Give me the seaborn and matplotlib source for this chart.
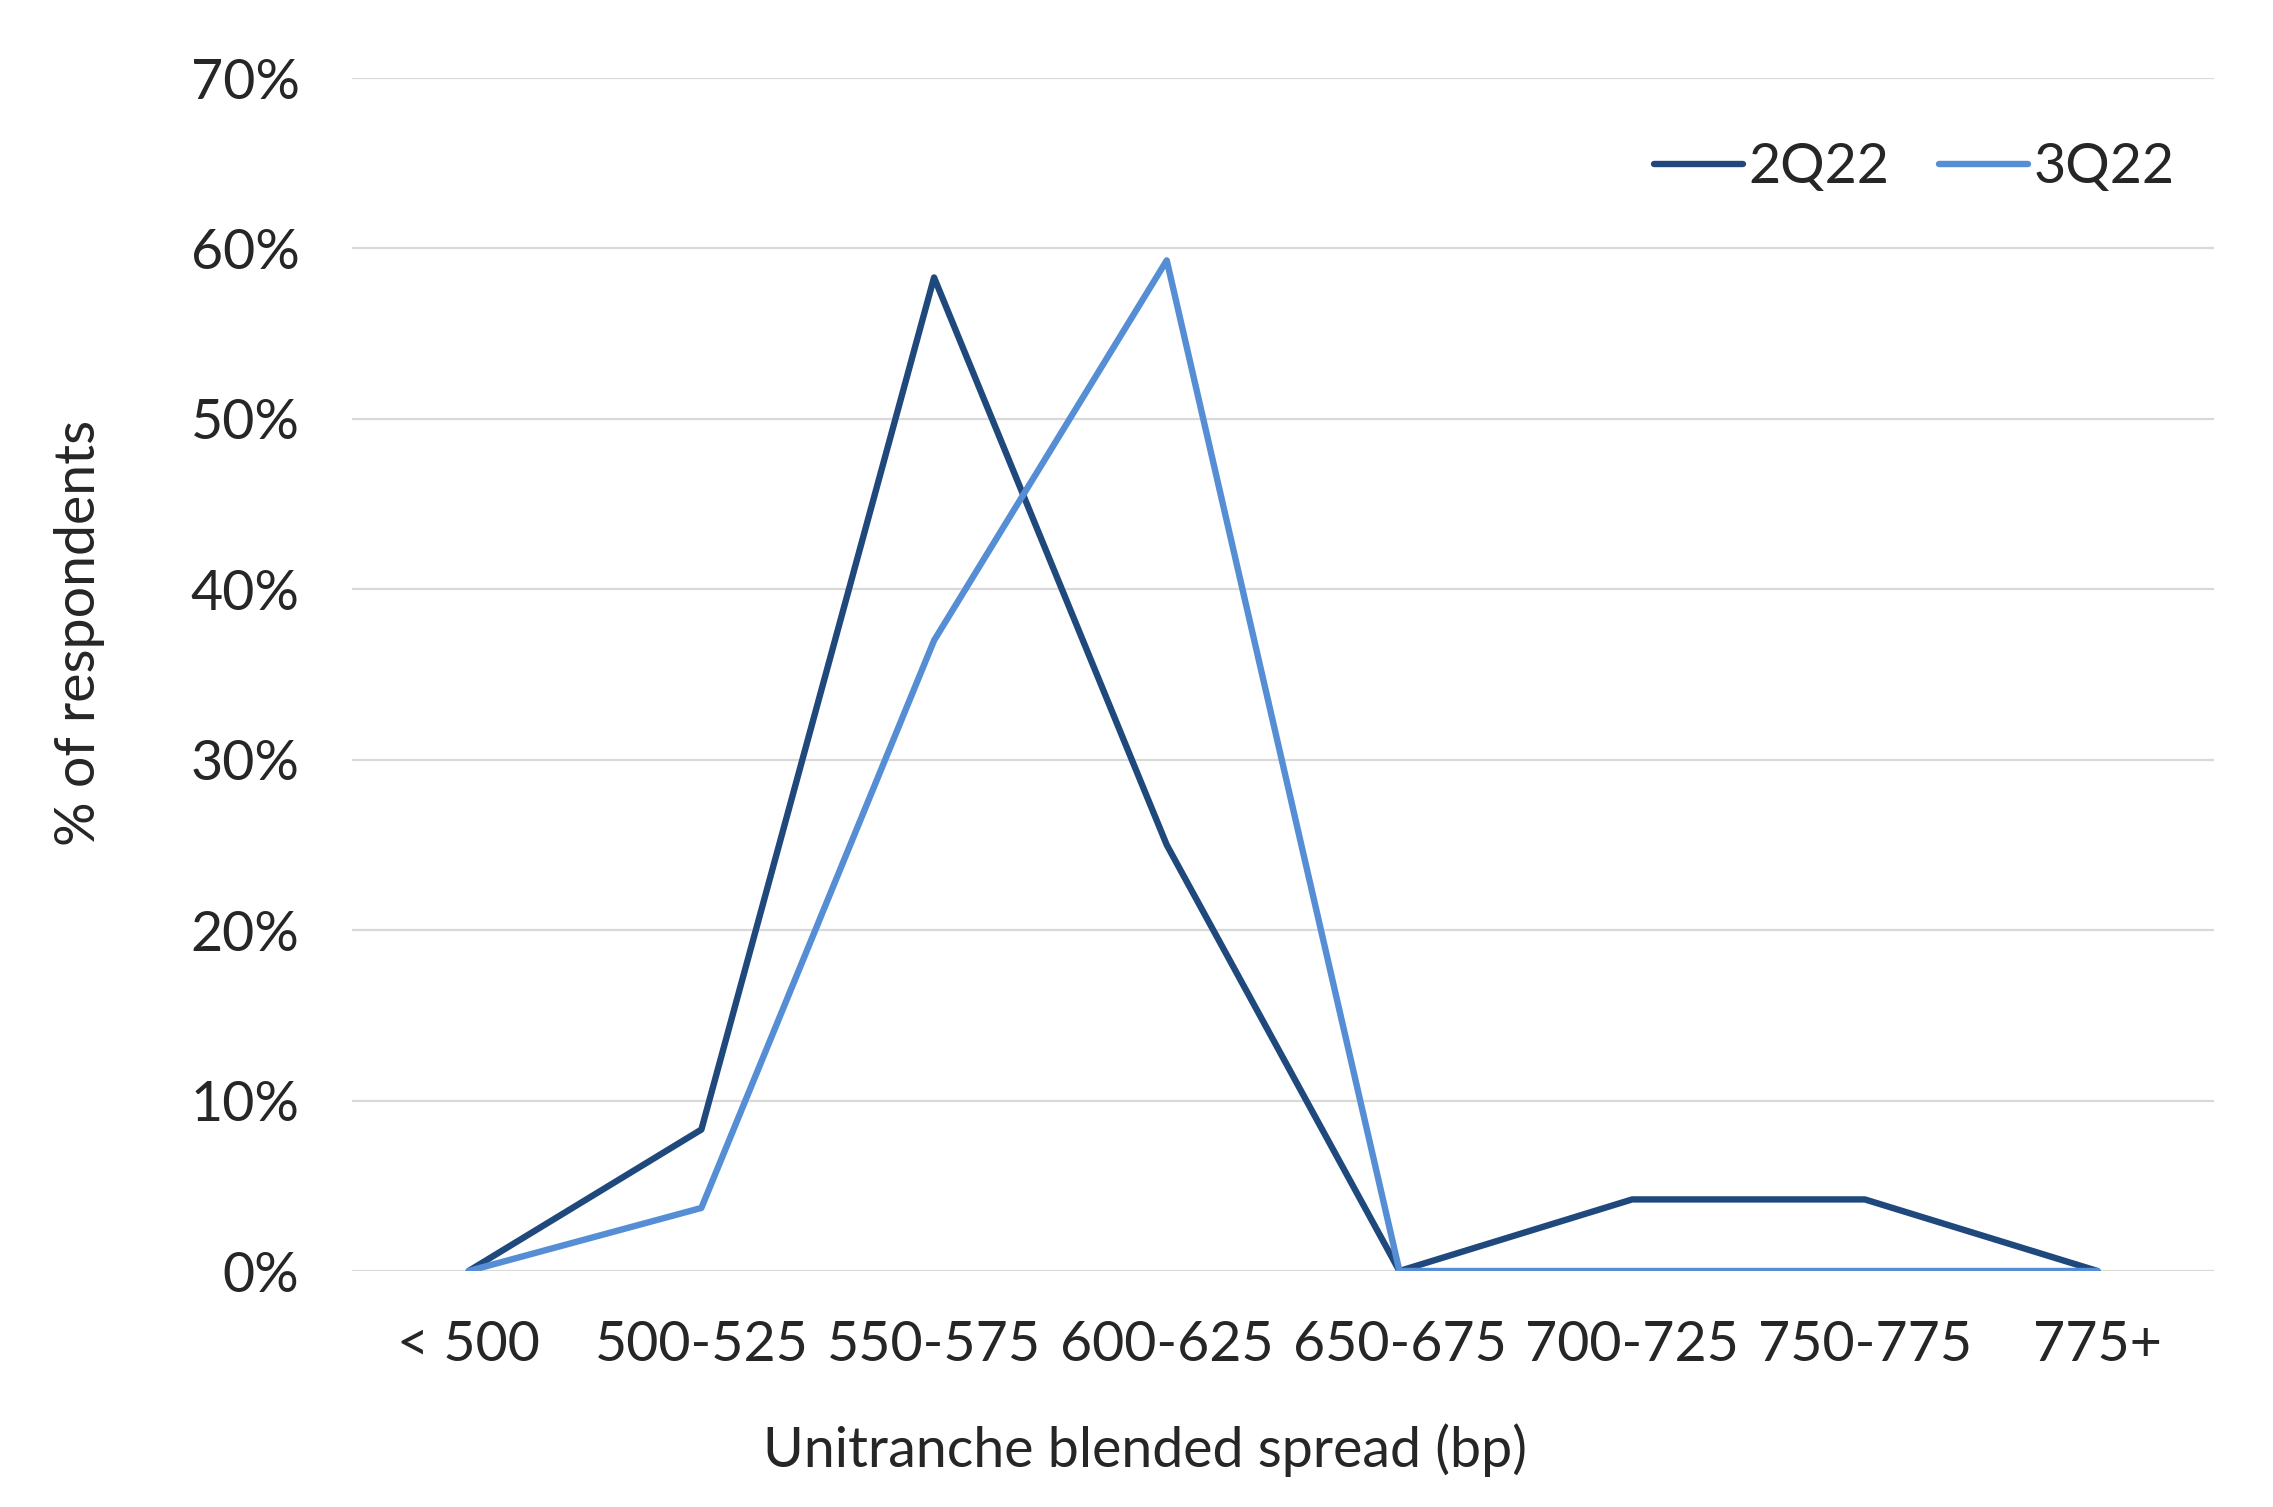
import matplotlib
matplotlib.use("Agg")
import matplotlib.pyplot as plt
import seaborn as sns
import pandas as pd
from matplotlib.ticker import PercentFormatter

categories = ["< 500", "500-525", "550-575", "600-625", "650-675", "700-725", "750-775", "775+"]
q2_2022 = [0.0, 8.3, 58.3, 25.0, 0.0, 4.2, 4.2, 0.0]
q3_2022 = [0.0, 3.7, 37.0, 59.3, 0.0, 0.0, 0.0, 0.0]
series_names = ["2Q22", "3Q22"]
colors = ["#1F497D", "#558ED5"]

rows = []
for name, vals in zip(series_names, [q2_2022, q3_2022]):
    for i, (c, v) in enumerate(zip(categories, vals)):
        rows.append({"pos": i, "category": c, "value": v, "series": name})
df = pd.DataFrame(rows)

sns.set_theme(style="white")
plt.rcParams["font.family"] = ["Lato", "DejaVu Sans"]

fig = plt.figure(figsize=(22.73, 15.07), dpi=100)
ax = fig.add_axes([0.155, 0.1566, 0.819, 0.7916])

sns.lineplot(data=df, x="pos", y="value", hue="series", palette=colors,
             linewidth=4.6, ax=ax, sort=False, estimator=None)

ax.set_xlim(-0.5, len(categories) - 0.5)
ax.set_ylim(0, 70)
ax.set_yticks(range(0, 71, 10))
ax.yaxis.set_major_formatter(PercentFormatter(decimals=0))
ax.set_xticks(range(len(categories)))
ax.set_xticklabels(categories)
ax.tick_params(axis="both", labelsize=40, colors="#262626", length=0)
ax.tick_params(axis="y", pad=38)
ax.tick_params(axis="x", pad=35)
ax.grid(axis="y", color="#D9D9D9", linewidth=1.6)
ax.set_axisbelow(True)
for s in ax.spines.values():
    s.set_visible(False)

ax.set_xlabel("Unitranche blended spread (bp)", fontsize=40, color="#262626")
ax.set_ylabel("% of respondents", fontsize=40, color="#262626")
ax.xaxis.set_label_coords(0.426, -0.128)
ax.yaxis.set_label_coords(-0.133, 0.535)

leg = ax.legend(loc="center right", bbox_to_anchor=(0.991, 0.925), frameon=False,
                fontsize=40, handlelength=1.6, handletextpad=0.1, columnspacing=0.9,
                ncol=2, borderaxespad=0)
for t in leg.get_texts():
    t.set_color("#262626")
for h in leg.get_lines():
    h.set_linewidth(4.6)

fig.savefig("out.png", dpi=100)
